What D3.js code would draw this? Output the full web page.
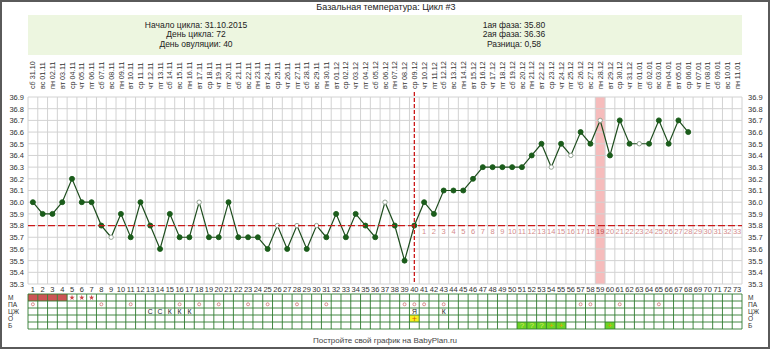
<!DOCTYPE html>
<html><head><meta charset="utf-8">
<script src="https://cdn.jsdelivr.net/npm/d3@7"></script>
<style>body{margin:0;background:#fff}svg{display:block;font-family:"Liberation Sans",Arial,sans-serif}</style>
</head><body><svg id="c" width="770" height="349"></svg>
<script>
const title = "Базальная температура: Цикл #3";
const infoLeft = ["Начало цикла: 31.10.2015", "День цикла: 72", "День овуляции: 40"];
const infoRight = ["1ая фаза: 35.80", "2ая фаза: 36.36", "Разница: 0,58"];
const footer = "Постройте свой график на BabyPlan.ru";
const dateLabels = ["сб 31.10","вс 01.11","пн 02.11","вт 03.11","ср 04.11","чт 05.11","пт 06.11","сб 07.11","вс 08.11","пн 09.11","вт 10.11","ср 11.11","чт 12.11","пт 13.11","сб 14.11","вс 15.11","пн 16.11","вт 17.11","ср 18.11","чт 19.11","пт 20.11","сб 21.11","вс 22.11","пн 23.11","вт 24.11","ср 25.11","чт 26.11","пт 27.11","сб 28.11","вс 29.11","пн 30.11","вт 01.12","ср 02.12","чт 03.12","пт 04.12","сб 05.12","вс 06.12","пн 07.12","вт 08.12","ср 09.12","чт 10.12","пт 11.12","сб 12.12","вс 13.12","пн 14.12","вт 15.12","ср 16.12","чт 17.12","пт 18.12","сб 19.12","вс 20.12","пн 21.12","вт 22.12","ср 23.12","чт 24.12","пт 25.12","сб 26.12","вс 27.12","пн 28.12","вт 29.12","ср 30.12","чт 31.12","пт 01.01","сб 02.01","вс 03.01","пн 04.01","вт 05.01","ср 06.01","чт 07.01","пт 08.01","сб 09.01","вс 10.01","пн 11.01"];
const temps = [36.0,35.9,35.9,36.0,36.2,36.0,36.0,35.8,35.7,35.9,
  35.7,36.0,35.8,35.6,35.9,35.7,35.7,36.0,35.7,35.7,
  36.0,35.7,35.7,35.7,35.6,35.8,35.6,35.8,35.6,35.8,
  35.7,35.9,35.7,35.9,35.8,35.7,36.0,35.8,35.5,35.8,
  36.0,35.9,36.1,36.1,36.1,36.2,36.3,36.3,36.3,36.3,
  36.3,36.4,36.5,36.3,36.5,36.4,36.6,36.5,36.7,36.4,
  36.7,36.5,36.5,36.5,36.7,36.5,36.7,36.6];
const hollowDays = [9,18,26,28,30,37,54,56,59,63];
const yTicks = ["35.3","35.4","35.5","35.6","35.7","35.8","35.9","36.0","36.1","36.2","36.3","36.4","36.5","36.6","36.7","36.8","36.9"];
const coverline = 35.8;
const ovulationDay = 40;
const highlightDay = 59;
const tableRows = ["М","ПА","ЦЖ","О","Б"];
const mensDays = [1,2,3,4];
const spotDays = [5,6,7];
const paDays = [1,8,11,16,18,20,23,25,28,31,39,40,41,43,57,58,61,65];
const cervixDays = [13,14,15,16,17,40,43];
const cervixVals = ["С","С","К","К","К","Я","К"];
const ovTestDays = [40];
const ovTestVals = ["+"];
const pregDays = [51,52,53,54,55,60];
const pregVals = ["?","?","?","+","+","+"];

const nDays = 73;
const days = d3.range(1, nDays + 1);
const svg = d3.select("#c");
const L = 28, R = 742, T = 97, B = 284;
const x = d3.scaleBand().domain(days).range([L, R]).padding(0);
const bw = x.bandwidth();
const cx = d => x(d) + bw / 2;
const y = d3.scaleLinear().domain([35.3, 36.9]).range([B, T]);

// frame
svg.append("rect").attr("x",1).attr("y",1).attr("width",768).attr("height",347)
  .attr("fill","#fff").attr("stroke","#5a5a5a").attr("stroke-width",2);

svg.append("text").attr("x",386).attr("y",10).attr("text-anchor","middle")
  .attr("font-size",9).attr("fill","#222").text(title);

svg.append("rect").attr("x",L).attr("y",15).attr("width",R-L).attr("height",40).attr("fill","#edf6e0");
infoLeft.forEach((t,i)=>svg.append("text").attr("x",196).attr("y",28+i*9.3).attr("text-anchor","middle")
  .attr("font-size",8.5).attr("fill","#222").text(t));
infoRight.forEach((t,i)=>svg.append("text").attr("x",514).attr("y",28+i*9.3).attr("text-anchor","middle")
  .attr("font-size",8.5).attr("fill","#222").text(t));

// date labels
svg.append("g").selectAll("text").data(days).join("text")
  .attr("transform", d => `translate(${cx(d)+2.6},89) rotate(-90)`)
  .attr("font-size",7.2).attr("fill","#333").text(d => dateLabels[d-1]);

// highlight band
svg.append("rect").attr("x",x(highlightDay)).attr("y",T).attr("width",bw).attr("height",B-T).attr("fill","#f6bcbc");

// grid
const grid = svg.append("g").attr("stroke","#d2d2d2").attr("stroke-width",1);
grid.selectAll("line.v").data(d3.range(0, nDays + 1)).join("line")
  .attr("x1", i => L + i*bw).attr("x2", i => L + i*bw).attr("y1", T).attr("y2", B);
grid.selectAll("line.h").data(yTicks).join("line")
  .attr("x1", L).attr("x2", R).attr("y1", t => y(+t)).attr("y2", t => y(+t));

// y axes
const yAxisL = d3.axisLeft(y).tickValues(yTicks.map(Number)).tickFormat((d,i)=>yTicks[i]).tickSize(0).tickPadding(0);
const gl = svg.append("g").attr("transform",`translate(24,0)`).call(yAxisL);
const yAxisR = d3.axisRight(y).tickValues(yTicks.map(Number)).tickFormat((d,i)=>yTicks[i]).tickSize(0).tickPadding(0);
const gr = svg.append("g").attr("transform",`translate(748,0)`).call(yAxisR);
[gl,gr].forEach(g=>{g.select(".domain").remove(); g.selectAll("text").attr("font-size",7.5).attr("fill","#333").attr("font-family","Liberation Sans, Arial");});

// day numbers
svg.append("g").selectAll("text").data(days).join("text")
  .attr("x", d => cx(d)).attr("y", 292).attr("text-anchor","middle")
  .attr("font-size",7.5).attr("fill","#333").text(d => d);

// phase numbers after ovulation
const phaseDays = days.filter(d => d > ovulationDay);
svg.append("g").selectAll("text").data(phaseDays).join("text")
  .attr("x", d => cx(d)).attr("y", y(coverline) + 8.5).attr("text-anchor","middle")
  .attr("font-size",7.5).attr("fill", d => d === highlightDay ? "#c05050" : "#d48c8c").text(d => d - ovulationDay);

// line + points
const pts = temps.map((t,i)=>({day:i+1,t}));
svg.append("path").datum(pts).attr("fill","none").attr("stroke","#1e4d1e").attr("stroke-width",1.2)
  .attr("d", d3.line().x(p=>cx(p.day)).y(p=>y(p.t)));
svg.append("g").selectAll("circle").data(pts).join("circle")
  .attr("cx", p=>cx(p.day)).attr("cy", p=>y(p.t)).attr("r", p=>hollowDays.includes(p.day)?2.2:2.5)
  .attr("fill", p=>hollowDays.includes(p.day)?"#fff":"#1b5c1b")
  .attr("stroke", p=>hollowDays.includes(p.day)?"#8a9a8a":"#1b5c1b").attr("stroke-width",0.9);

// coverline and ovulation line
svg.append("line").attr("x1",L).attr("x2",R).attr("y1",y(coverline)).attr("y2",y(coverline))
  .attr("stroke","#cc1a1a").attr("stroke-width",1.3).attr("stroke-dasharray","7,3");
svg.append("line").attr("x1",cx(ovulationDay)).attr("x2",cx(ovulationDay)).attr("y1",T-5).attr("y2",B)
  .attr("stroke","#cc1a1a").attr("stroke-width",1.3).attr("stroke-dasharray","4,2");

// table
const TT = 294, rh = 7;
const ry = i => TT + i*rh;
const tab = svg.append("g");
tab.selectAll("rect.m").data(mensDays).join("rect").attr("x",d=>x(d)).attr("y",ry(0)).attr("width",bw).attr("height",rh).attr("fill","#cc5555");
tab.selectAll("rect.o").data(ovTestDays).join("rect").attr("x",d=>x(d)).attr("y",ry(3)).attr("width",bw).attr("height",rh).attr("fill","#f8f020");
tab.selectAll("rect.b").data(pregDays).join("rect").attr("x",d=>x(d)).attr("y",ry(4)).attr("width",bw).attr("height",rh).attr("fill","#6cd424");
const tg = tab.append("g").attr("stroke","#2f7a2f").attr("stroke-width",0.9);
tg.selectAll("line.v").data(d3.range(0,nDays+1)).join("line")
  .attr("x1",i=>L+i*bw).attr("x2",i=>L+i*bw).attr("y1",TT).attr("y2",TT+5*rh);
tg.selectAll("line.h").data(d3.range(0,6)).join("line")
  .attr("x1",L).attr("x2",R).attr("y1",i=>TT+i*rh).attr("y2",i=>TT+i*rh);
tableRows.forEach((r,i)=>{
  svg.append("text").attr("x",8).attr("y",ry(i)+5.6).attr("font-size",6.6).attr("fill","#333").text(r);
  svg.append("text").attr("x",748).attr("y",ry(i)+5.6).attr("font-size",6.6).attr("fill","#333").text(r);
});
tab.selectAll("path.s").data(spotDays).join("path")
  .attr("transform", d => `translate(${cx(d)},${ry(0)+3.6})`)
  .attr("d", d3.symbol(d3.symbolStar, 9)).attr("fill","#cc4444");
tab.selectAll("circle.pa").data(paDays).join("circle").attr("cx",d=>cx(d)).attr("cy",ry(1)+3.3).attr("r",1.5)
  .attr("fill","none").attr("stroke","#d07070").attr("stroke-width",0.8);
tab.selectAll("text.c").data(cervixDays).join("text").attr("x",d=>cx(d)).attr("y",ry(2)+6).attr("text-anchor","middle")
  .attr("font-size",6.8).attr("fill","#222").text((d,i)=>cervixVals[i]);
tab.selectAll("text.ov").data(ovTestDays).join("text").attr("x",d=>cx(d)).attr("y",ry(3)+6.5).attr("text-anchor","middle")
  .attr("font-size",9).attr("fill","#d05a00").text((d,i)=>ovTestVals[i]);
tab.selectAll("text.pr").data(pregDays).join("text").attr("x",d=>cx(d)).attr("y",ry(4)+6.3).attr("text-anchor","middle")
  .attr("font-size",8).attr("fill",(d,i)=>pregVals[i]==="+"?"#e0a000":"#d8e860").text((d,i)=>pregVals[i]);

svg.append("text").attr("x",385).attr("y",343).attr("text-anchor","middle")
  .attr("font-size",8).attr("fill","#444").text(footer);
</script></body></html>
